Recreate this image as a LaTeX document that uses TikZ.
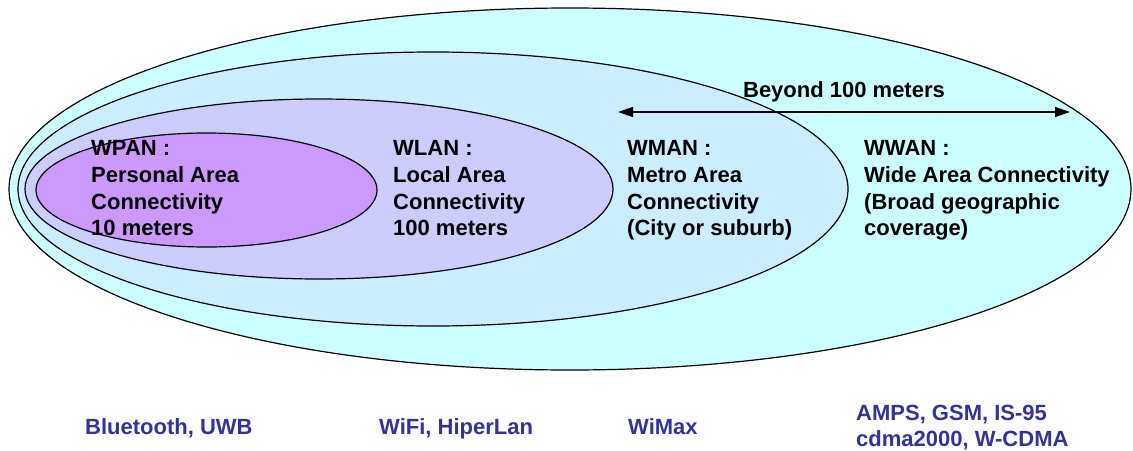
\documentclass[tikz,border=0pt]{standalone}
\usepackage{fontspec}
\setmainfont{Liberation Sans}
\usetikzlibrary{positioning,arrows.meta}

\definecolor{wwanfill}{HTML}{CCFFFF}
\definecolor{wmanfill}{HTML}{CCECFF}
\definecolor{wlanfill}{HTML}{CCCCFF}
\definecolor{wpanfill}{HTML}{CC99FF}
\definecolor{techblue}{HTML}{333399}

\tikzset{
    zone/.style={draw=black, line width=1.2pt},
    areatext/.style={font=\fontsize{22}{26.7}\selectfont\bfseries, align=left, inner sep=0pt},
    techtext/.style={areatext, text=techblue},
    rangearrow/.style={line width=1.2pt, {Triangle[length=15pt,width=10pt]}-{Triangle[length=15pt,width=10pt]}}
}

\begin{document}
\begin{tikzpicture}[x=1pt,y=-1pt]

        \useasboundingbox (0,0) rectangle (1133,450);

        % zones

        \draw[zone, fill=wwanfill] (570,189) ellipse (561 and 181); % WWAN
        \draw[zone, fill=wmanfill] (433,189) ellipse (415 and 137); % WMAN
        \draw[zone, fill=wlanfill] (319,189) ellipse (294 and 90); % WLAN
        \draw[zone, fill=wpanfill] (206.5,190) ellipse (170.5 and 57); % WPAN

        % range arrow

        \coordinate (rangeL) at (618,112);
        \coordinate (rangeR) at (1070,112);
        \draw[rangearrow] (rangeL) -- (rangeR) node[areatext, midway, anchor=base, yshift=15pt] (beyond) {Beyond 100 meters};

        % area texts

        \node[areatext, anchor=north west] (wpan) at (91,140.3) {WPAN :\\Personal Area\\Connectivity\\10 meters};
        \node[areatext, anchor=north west] (wlan) at (393,140.3) {WLAN :\\Local Area\\Connectivity\\100 meters};
        \node[areatext, anchor=north west] (wman) at (627,140.3) {WMAN :\\Metro Area\\Connectivity\\(City or suburb)};
        \node[areatext, anchor=north west] (wwan) at (864,140.3) {WWAN :\\Wide Area Connectivity\\(Broad geographic\\coverage)};

        % technologies

        \node[techtext, anchor=base west] (bluetooth) at (85,434) {Bluetooth, UWB};
        \node[techtext, anchor=base west] (wifi) at (379,434) {WiFi, HiperLan};
        \node[techtext, anchor=base west] (wimax) at (628,434) {WiMax};
        \node[techtext, font=\fontsize{22}{25.3}\selectfont\bfseries, anchor=north west] (cellular) at (856,405.3) {AMPS, GSM, IS-95\\cdma2000, W-CDMA};

    \end{tikzpicture}
\end{document}
